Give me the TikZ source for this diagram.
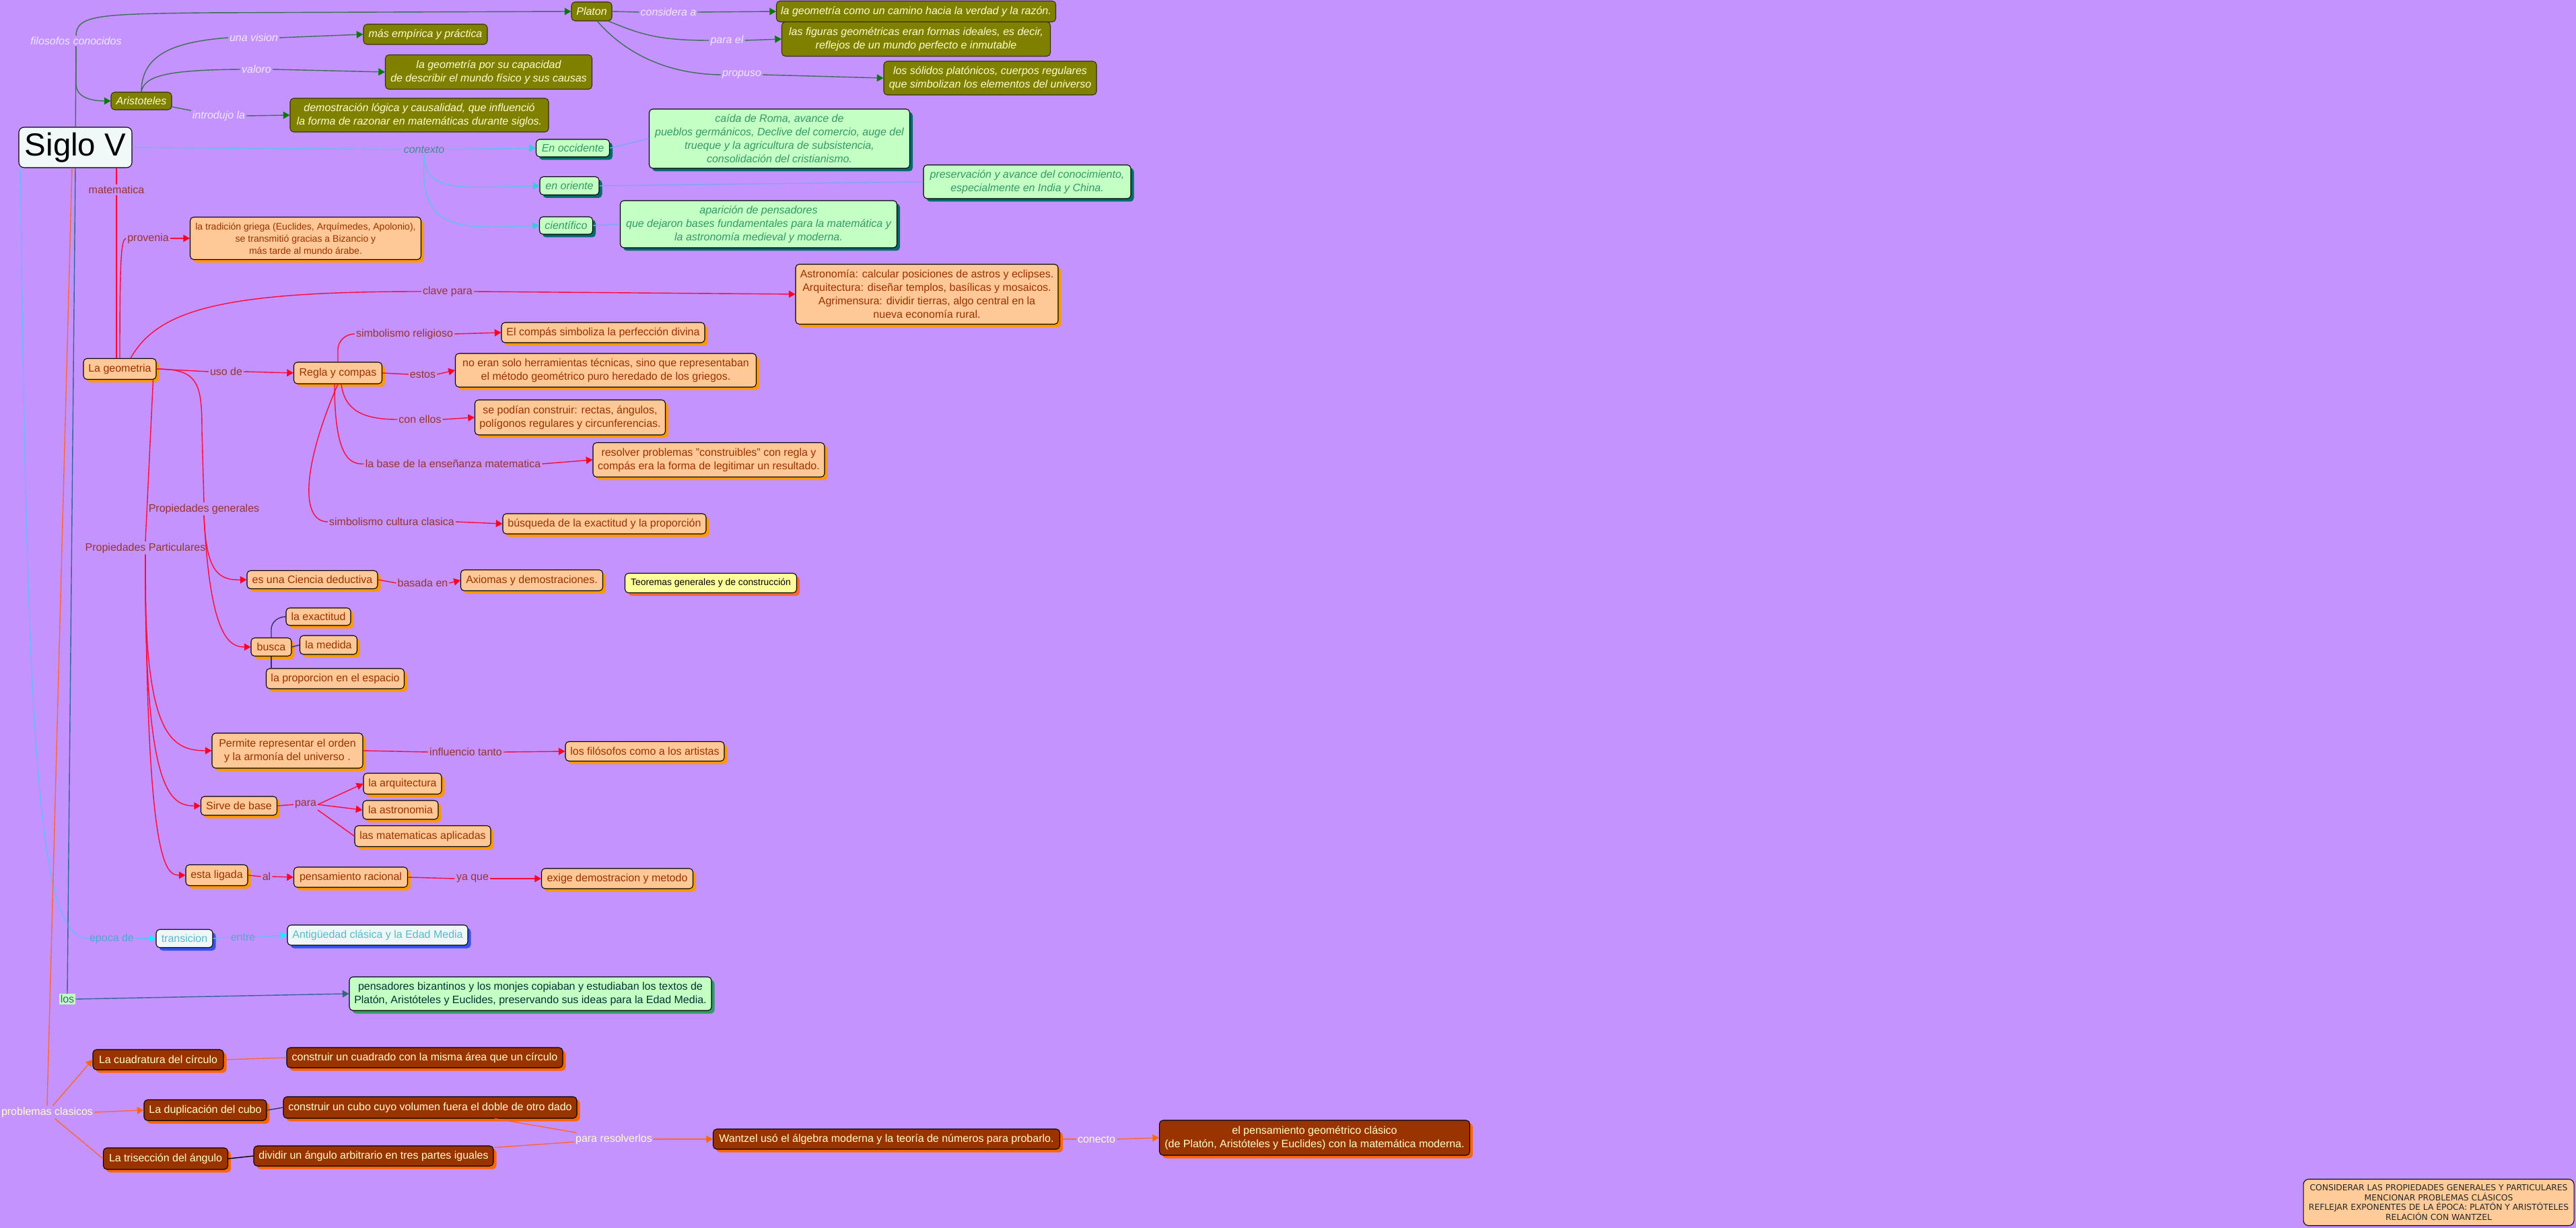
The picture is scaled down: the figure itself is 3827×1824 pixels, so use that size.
\documentclass[tikz,border=0pt]{standalone}
\usepackage{fontspec}
\setmainfont{Liberation Sans}
\newfontfamily\notefont{DejaVu Sans}
\usetikzlibrary{arrows.meta,shadows}
\definecolor{bgcol}{HTML}{C493FE}
\definecolor{olivefill}{HTML}{808000}
\definecolor{olivetxt}{HTML}{FFFFCC}
\definecolor{olivedk}{HTML}{333300}
\definecolor{flabcol}{HTML}{F0E8FF}
\definecolor{glinecol}{HTML}{3E6E58}
\definecolor{garrcol}{HTML}{007A00}
\definecolor{mintfill}{HTML}{C4FFC4}
\definecolor{minttxt}{HTML}{339966}
\definecolor{mintsh}{HTML}{006B6B}
\definecolor{clinecol}{HTML}{5CC4EA}
\definecolor{carrcol}{HTML}{33CCDD}
\definecolor{blinecol}{HTML}{7FA6F2}
\definecolor{ctxcol}{HTML}{418C8C}
\definecolor{peachfill}{HTML}{FFC896}
\definecolor{peachtxt}{HTML}{993300}
\definecolor{peachsh}{HTML}{FF9900}
\definecolor{rlinecol}{HTML}{FF0A3C}
\definecolor{rarrcol}{HTML}{FF0022}
\definecolor{rlabcol}{HTML}{993333}
\definecolor{navycol}{HTML}{333366}
\definecolor{teorfill}{HTML}{FFFF99}
\definecolor{teorsh}{HTML}{FF6633}
\definecolor{cyanfill}{HTML}{EEF6F6}
\definecolor{cyantxt}{HTML}{55BBCC}
\definecolor{cyansh}{HTML}{3355EE}
\definecolor{elabcol}{HTML}{4FAAD0}
\definecolor{elinecol}{HTML}{66BBFF}
\definecolor{earrcol}{HTML}{11EEFF}
\definecolor{tlinecol}{HTML}{336699}
\definecolor{tarrcol}{HTML}{336677}
\definecolor{biztxt}{HTML}{003333}
\definecolor{bizsh}{HTML}{339966}
\definecolor{brownfill}{HTML}{993300}
\definecolor{browntxt}{HTML}{FFFFCC}
\definecolor{brownsh}{HTML}{FF6600}
\definecolor{olinecol}{HTML}{FF6633}
\definecolor{rootfill}{HTML}{F0F8F8}
\definecolor{notefill}{HTML}{FFCC99}

\tikzset{
  cbox/.style={rounded corners=3pt,align=center,inner xsep=2pt,inner ysep=1pt,line width=0.6pt,draw=black,font=\fontsize{9.1}{11.4}\selectfont},
  sz/.style 2 args={minimum width=#1*0.02cm,minimum height=#2*0.02cm},
  shadowed/.style={drop shadow={shadow xshift=0.09cm,shadow yshift=-0.09cm,fill=#1,opacity=1}},
  rootbox/.style={cbox,rounded corners=4.5pt,fill=rootfill,font=\fontsize{27}{30}\selectfont},
  olivebox/.style={cbox,draw=olivedk,fill=olivefill,text=olivetxt,font=\fontsize{9.1}{11.4}\selectfont\itshape},
  mintbox/.style={cbox,fill=mintfill,text=minttxt,font=\fontsize{9.1}{11.4}\selectfont\itshape,shadowed=mintsh},
  peachbox/.style={cbox,fill=peachfill,text=peachtxt,shadowed=peachsh},
  teorbox/.style={cbox,fill=teorfill,text=black,font=\fontsize{7.9}{10}\selectfont,shadowed=teorsh},
  cyanbox/.style={cbox,fill=cyanfill,text=cyantxt,shadowed=cyansh},
  bizbox/.style={cbox,fill=mintfill,text=biztxt,shadowed=bizsh},
  brownbox/.style={cbox,fill=brownfill,text=browntxt,shadowed=brownsh},
  notebox/.style={cbox,rounded corners=4.5pt,fill=notefill,text=black!85,font=\notefont\fontsize{7}{8.4}\selectfont},
  lab/.style={inner sep=1pt,font=\fontsize{9.1}{11}\selectfont},
  flab/.style={lab,text=flabcol,font=\fontsize{9.1}{11}\selectfont\itshape},
  clab/.style={lab,text=ctxcol,font=\fontsize{9.1}{11}\selectfont\itshape},
  rlab/.style={lab,text=rlabcol},
  elab/.style={lab,text=elabcol},
  loslab/.style={lab,text=tarrcol,fill=mintfill},
  olab/.style={lab,text=browntxt},
  gline/.style={draw=glinecol,line width=0.8pt},
  garr/.style={gline,-{Triangle[length=5.5pt,width=6pt,color=garrcol]}},
  cline/.style={draw=clinecol,line width=0.8pt},
  carr/.style={cline,-{Triangle[length=5.5pt,width=6pt,color=carrcol]}},
  bline/.style={draw=blinecol,line width=0.8pt},
  rline/.style={draw=rlinecol,line width=0.8pt},
  rarr/.style={rline,-{Triangle[length=5.5pt,width=6pt,color=rarrcol]}},
  nline/.style={draw=navycol,line width=0.8pt},
  eline/.style={draw=elinecol,line width=0.8pt},
  earr/.style={eline,-{Triangle[length=5.5pt,width=6pt,color=earrcol]}},
  tline/.style={draw=tlinecol,line width=0.8pt},
  tarr/.style={tline,-{Triangle[length=5.5pt,width=6pt,color=tarrcol]}},
  oline/.style={draw=olinecol,line width=0.8pt},
  oarr/.style={oline,-{Triangle[length=5.5pt,width=6pt,color=brownsh]}}
}

\begin{document}
\begin{tikzpicture}[x=0.02cm,y=-0.02cm]
\fill[bgcol] (0,0) rectangle (3827,1824);
\useasboundingbox (0,0) rectangle (3827,1824);

\node[rootbox,sz={168}{60}] (sv) at (112,219) {Siglo V};

\node[olivebox,sz={60}{28}] (plat) at (879,17) {Platon};
\node[olivebox,sz={415}{31}] (camino) at (1361,17) {la geometría como un camino hacia la verdad y la razón.};
\node[olivebox,sz={399}{51}] (figuras) at (1361,58) {las figuras geométricas eran formas ideales, es decir,\\reflejos de un mundo perfecto e inmutable};
\node[olivebox,sz={316}{50}] (solidos) at (1471,116) {los sólidos platónicos, cuerpos regulares\\que simbolizan los elementos del universo};
\node[olivebox,sz={184}{30}] (empir) at (632,51) {más empírica y práctica};
\node[olivebox,sz={307}{51}] (capac) at (726,107) {la geometría por su capacidad\\de describir el mundo físico y sus causas};
\node[olivebox,sz={90}{26}] (ari) at (210,150) {Aristoteles};
\node[olivebox,sz={384}{50}] (demos) at (623,171) {demostración lógica y causalidad, que influenció\\la forma de razonar en matemáticas durante siglos.};

\node[mintbox,sz={109}{26}] (occ) at (851,220) {En occidente};
\node[mintbox,sz={387}{88}] (caida) at (1158,206) {caída de Roma, avance de\\pueblos germánicos, Declive del comercio, auge del\\trueque y la agricultura de subsistencia,\\consolidación del cristianismo.};
\node[mintbox,sz={88}{27}] (ori) at (846,276) {en oriente};
\node[mintbox,sz={308}{50}] (preserv) at (1526,270) {preservación y avance del conocimiento,\\especialmente en India y China.};
\node[mintbox,sz={79}{26}] (cient) at (841,335) {científico};
\node[mintbox,sz={411}{70}] (aparic) at (1127,333) {aparición de pensadores\\que dejaron bases fundamentales para la matemática y\\la astronomía medieval y moderna.};

\node[peachbox,sz={343}{63},font=\fontsize{8}{10.3}\selectfont] (trad) at (454,354) {la tradición griega (Euclides, Arquímedes, Apolonio),\\se transmitió gracias a Bizancio y\\más tarde al mundo árabe.};
\node[peachbox,sz={390}{89}] (astro) at (1377,437) {Astronomía: calcular posiciones de astros y eclipses.\\Arquitectura: diseñar templos, basílicas y mosaicos.\\Agrimensura: dividir tierras, algo central en la\\nueva economía rural.};
\node[peachbox,sz={108}{31}] (geo) at (178,548) {La geometria};
\node[peachbox,sz={131}{32}] (regla) at (502,554) {Regla y compas};
\node[peachbox,sz={302}{30}] (compas) at (896,494) {El compás simboliza la perfección divina};
\node[peachbox,sz={447}{50}] (noeran) at (900,550) {no eran solo herramientas técnicas, sino que representaban\\el método geométrico puro heredado de los griegos.};
\node[peachbox,sz={283}{52}] (sepod) at (847,620) {se podían construir: rectas, ángulos,\\polígonos regulares y circunferencias.};
\node[peachbox,sz={344}{51}] (resolv) at (1053,683) {resolver problemas "construibles" con regla y\\compás era la forma de legitimar un resultado.};
\node[peachbox,sz={302}{30}] (busq) at (898,778) {búsqueda de la exactitud y la proporción};
\node[peachbox,sz={194}{27}] (cded) at (464,861) {es una Ciencia deductiva};
\node[peachbox,sz={211}{31}] (axiom) at (790,862) {Axiomas y demostraciones.};
\node[teorbox,sz={255}{29}] (teor) at (1056,866) {Teoremas generales y de construcción};
\node[peachbox,sz={96}{26}] (exact) at (473,916) {la exactitud};
\node[peachbox,sz={60}{27}] (busca) at (403,961) {busca};
\node[peachbox,sz={85}{28}] (medida) at (488,958) {la medida};
\node[peachbox,sz={205}{30}] (proporc) at (498,1008) {la proporcion en el espacio};
\node[peachbox,sz={224}{52}] (permite) at (427,1115) {Permite representar el orden\\y la armonía del universo .};
\node[peachbox,sz={236}{29}] (filos) at (958,1116) {los filósofos como a los artistas};
\node[peachbox,sz={116}{31}] (arquit) at (598,1164) {la arquitectura};
\node[peachbox,sz={113}{28}] (sirve) at (355,1197) {Sirve de base};
\node[peachbox,sz={112}{28}] (astron) at (595,1203) {la astronomia};
\node[peachbox,sz={202}{31}] (matapl) at (628,1242) {las matematicas aplicadas};
\node[peachbox,sz={92}{31}] (ligada) at (322,1300) {esta ligada};
\node[peachbox,sz={169}{30}] (pracional) at (521,1303) {pensamiento racional};
\node[peachbox,sz={225}{30}] (exige) at (917,1305) {exige demostracion y metodo};

\node[cyanbox,sz={84}{27}] (trans) at (274,1394) {transicion};
\node[cyanbox,sz={268}{30}] (antig) at (561,1389) {Antigüedad clásica y la Edad Media};
\node[bizbox,sz={538}{50}] (bizant) at (788,1476) {pensadores bizantinos y los monjes copiaban y estudiaban los textos de\\Platón, Aristóteles y Euclides, preservando sus ideas para la Edad Media.};

\node[brownbox,sz={194}{30}] (cuad) at (235,1574) {La cuadratura del círculo};
\node[brownbox,sz={410}{30}] (ccuad) at (631,1571) {construir un cuadrado con la misma área que un círculo};
\node[brownbox,sz={182}{31}] (dupl) at (305,1649) {La duplicación del cubo};
\node[brownbox,sz={436}{32}] (ccubo) at (639,1645) {construir un cubo cuyo volumen fuera el doble de otro dado};
\node[brownbox,sz={185}{32}] (tris) at (246,1721) {La trisección del ángulo};
\node[brownbox,sz={356}{30}] (divid) at (555,1717) {dividir un ángulo arbitrario en tres partes iguales};
\node[brownbox,sz={515}{30}] (wantz) at (1317,1692) {Wantzel usó el álgebra moderna y la teoría de números para probarlo.};
\node[brownbox,sz={461}{52}] (pensam) at (1953,1690) {el pensamiento geométrico clásico\\(de Platón, Aristóteles y Euclides) con la matemática moderna.};

\node[notebox,sz={402}{69}] (nota) at (3623,1786) {CONSIDERAR LAS PROPIEDADES GENERALES Y PARTICULARES\\MENCIONAR PROBLEMAS CLÁSICOS\\REFLEJAR EXPONENTES DE LA ÉPOCA: PLATÓN Y ARISTÓTELES\\RELACIÓN CON WANTZEL};

\node[flab] (filo) at (113,61) {filosofos conocidos};
\node[flab] (unavis) at (377,56) {una vision};
\node[flab] (valoro) at (381,103) {valoro};
\node[flab] (introd) at (325,172) {introdujo la};
\node[flab] (cons) at (993,18) {considera a};
\node[flab] (parael) at (1080,60) {para el};
\node[flab] (propuso) at (1102,111) {propuso};
\node[clab] (ctx) at (630,222) {contexto};
\node[rlab] (mat) at (173,282) {matematica};
\node[rlab] (prov) at (220,354) {provenia};
\node[rlab] (clave) at (665,433) {clave para};
\node[rlab] (uso) at (336,552) {uso de};
\node[rlab] (srel) at (601,496) {simbolismo religioso};
\node[rlab] (estos) at (628,556) {estos};
\node[rlab] (conellos) at (624,623) {con ellos};
\node[rlab] (ensen) at (673,689) {la base de la enseñanza matematica};
\node[rlab] (scul) at (582,775) {simbolismo cultura clasica};
\node[rlab] (pgen) at (303,756) {Propiedades generales};
\node[rlab] (ppart) at (216,814) {Propiedades Particulares};
\node[rlab] (basada) at (628,866) {basada en};
\node[rlab] (influ) at (692,1117) {influencio tanto};
\node[rlab] (para) at (454,1195) {para};
\node[rlab] (al) at (396,1302) {al};
\node[rlab] (yaque) at (702,1305) {ya que};
\node[elab] (epoca) at (166,1394) {epoca de};
\node[elab] (entre) at (361,1392) {entre};
\node[loslab] (los) at (100,1484) {los};
\node[olab] (prob) at (70,1652) {problemas clasicos};
\node[olab] (presol) at (912,1692) {para resolverlos};
\node[olab] (conecto) at (1629,1692) {conecto};

\draw[gline] (sv) -- (filo);
\draw[garr] (filo.north) .. controls (113,22) and (150,21) .. (300,19) -- (plat.west);
\draw[garr] (filo.south) -- (113,125) to[out=-90,in=180] (ari.west);
\draw[gline] (ari.north) .. controls (210,80) and (260,62) .. (unavis.west);
\draw[garr] (unavis.east) -- (empir.west);
\draw[gline] (ari.north) .. controls (214,112) and (250,104) .. (valoro.west);
\draw[garr] (valoro.east) -- (capac.west);
\draw[gline] (ari) -- (introd);
\draw[garr] (introd.east) -- (demos.west);
\draw[gline] (plat.east) -- (cons.west);
\draw[garr] (cons.east) -- (camino.west);
\draw[gline] (plat.-30) .. controls (950,50) and (975,60) .. (parael.west);
\draw[garr] (parael.east) -- (figuras.west);
\draw[gline] (plat.-60) .. controls (925,75) and (985,110) .. (propuso.west);
\draw[garr] (propuso.east) -- (solidos.west);

\draw[cline] (sv.east) -- (ctx.west);
\draw[carr] (ctx.east) -- (occ.west);
\draw[carr] (ctx.south) .. controls (630,285) and (680,280) .. (ori.west);
\draw[carr] (ctx.south) .. controls (622,345) and (680,340) .. (cient.west);
\draw[bline] (occ.east) -- (caida.west);
\draw[bline] (ori.east) -- (preserv.west);
\draw[bline] (cient.east) -- (aparic.west);

\draw[rline] (sv.south -| mat) -- (mat.north);
\draw[rline] (mat.south) -- (mat.south |- geo.north);
\draw[rline] (geo.north) .. controls (178,380) and (180,356) .. (prov.west);
\draw[rarr] (prov.east) -- (trad.west);
\draw[rline] (geo.45) .. controls (235,460) and (330,433) .. (clave.west);
\draw[rarr] (clave.east) -- (astro.west);
\draw[rline] (geo.east) -- (uso.west);
\draw[rarr] (uso.east) -- (regla.west);
\draw[rline] (regla.north) -- ++(0,-18) to[out=90,in=180] (srel.west);
\draw[rarr] (srel.east) -- (compas.west);
\draw[rline] (regla.east) -- (estos.west);
\draw[rarr] (estos.east) -- (noeran.west);
\draw[rline] ([xshift=0.1cm]regla.south) .. controls (512,610) and (540,623) .. (conellos.west);
\draw[rarr] (conellos.east) -- (sepod.west);
\draw[rline] ([xshift=-0.1cm]regla.south) .. controls (497,680) and (520,690) .. (ensen.west);
\draw[rarr] (ensen.east) -- (resolv.west);
\draw[rline] (regla.south) .. controls (450,690) and (445,775) .. (scul.west);
\draw[rarr] (scul.east) -- (busq.west);
\draw[rline] (geo.east) .. controls (295,548) and (300,570) .. (300,640) -- (pgen.north);
\draw[rarr] (pgen.south) .. controls (306,850) and (325,862) .. (cded.west);
\draw[rarr] (pgen.south) .. controls (312,945) and (340,961) .. (busca.west);
\draw[rline] ([xshift=-0.1cm]geo.south east) -- (ppart.north);
\draw[rarr] (ppart.south) .. controls (213,1085) and (250,1115) .. (permite.west);
\draw[rarr] (ppart.south) .. controls (214,1170) and (250,1197) .. (sirve.west);
\draw[rarr] (ppart.south) .. controls (218,1280) and (245,1300) .. (ligada.west);
\draw[rline] (cded.east) -- (basada.west);
\draw[rarr] (basada.east) -- (axiom.west);
\draw[nline] (busca.north) -- ++(0,-12) to[out=90,in=180] (exact.west);
\draw[nline] (busca.east) -- (medida.west);
\draw[nline] (busca.south) -- (busca.south |- proporc.north);
\draw[rline] (permite.east) -- (influ.west);
\draw[rarr] (influ.east) -- (filos.west);
\draw[rline] (sirve.east) -- (para.west);
\draw[rarr] (para.east) -- (arquit.west);
\draw[rarr] (para.east) -- (astron.west);
\draw[rline] (para.south east) -- (matapl.west);
\draw[rline] (ligada.east) -- (al.west);
\draw[rarr] (al.east) -- (pracional.west);
\draw[rline] (pracional.east) -- (yaque.west);
\draw[rarr] (yaque.east) -- (exige.west);

\draw[eline] ([xshift=0.06cm]sv.south west) .. controls (40,1150) and (60,1394) .. (epoca.west);
\draw[earr] (epoca.east) -- (trans.west);
\draw[eline] (trans.east) -- (entre.west);
\draw[earr] (entre.east) -- (antig.west);

\draw[tline] (sv.south) -- (los.north);
\draw[tarr] (los.east) -- (bizant.west);

\draw[oline] ([xshift=-0.1cm]sv.south) -- (prob.north);
\draw[oarr] (prob) -- (cuad.west);
\draw[oarr] (prob.east) -- (dupl.west);
\draw[oline] (prob) -- (tris.west);
\draw[oline] (cuad.east) -- (ccuad.west);
\draw[nline] (dupl.east) -- (ccubo.west);
\draw[black,line width=0.8pt] (tris.east) -- (divid.west);
\draw[oline] (ccubo) -- (presol);
\draw[oline] (divid) -- (presol);
\draw[oarr] (presol.east) -- (wantz.west);
\draw[oline] (wantz.east) -- (conecto.west);
\draw[oarr] (conecto.east) -- (pensam.west);
\end{tikzpicture}
\end{document}
